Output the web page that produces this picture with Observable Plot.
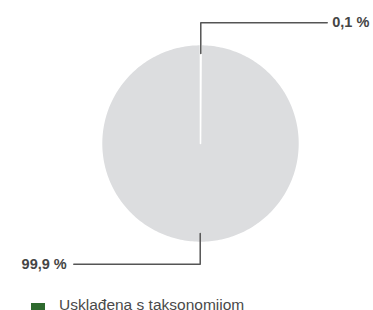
<!DOCTYPE html>
<html>
<head>
<meta charset="utf-8">
<script src="https://cdn.jsdelivr.net/npm/d3@7"></script>
<script src="https://cdn.jsdelivr.net/npm/@observablehq/plot@0.6"></script>
<style>
  html, body { margin: 0; padding: 0; background: #fff; overflow: hidden; }
  #chart { width: 373px; height: 310px; position: relative; font-family: "Liberation Sans", sans-serif; }
  .legend { position: absolute; left: 31px; top: 296px; display: flex; align-items: flex-start; font-size: 15.5px; line-height: 18px; color: #4a4a4a; white-space: nowrap; }
  .legend .sw { width: 14px; height: 14px; margin-top: 7px; margin-right: 14px; }
</style>
</head>
<body>
<div id="chart"></div>
<script>
const categories = ["Usklađena s taksonomijom", "Neusklađena s taksonomijom"];
const values = [0.1, 99.9];
const labels = ["0,1 %", "99,9 %"];
const colors = ["#2e6a2e", "#dcdddf"];

const arcs = d3.pie().sort(null).value(d => d)(values);

// polygon points of each slice, in unit-circle data space (y up)
const slicePts = [];
arcs.forEach((a, i) => {
  const n = Math.max(2, Math.ceil((a.endAngle - a.startAngle) / 0.02));
  slicePts.push({k: i, x: 0, y: 0});
  for (let j = 0; j <= n; j++) {
    const t = a.startAngle + (a.endAngle - a.startAngle) * j / n;
    slicePts.push({k: i, x: Math.sin(t), y: Math.cos(t)});
  }
  slicePts.push({k: i, x: 0, y: 0});
});

// leader lines: from inside the rim at the mid angle, up/down to an elbow, then sideways
const rIn = 0.91, rElbow = 1.22, reach = 1.28;
const leaderPts = [];
const labelPts = [];
arcs.forEach((a, i) => {
  const m = (a.startAngle + a.endAngle) / 2;
  const sx = Math.sin(m), sy = Math.cos(m);
  const side = sy > 0 ? 1 : -1;
  const ex = rIn * sx, ey = side * rElbow;
  const hx = side * reach;
  leaderPts.push({k: i, x: rIn * sx, y: rIn * sy});
  leaderPts.push({k: i, x: ex, y: ey});
  leaderPts.push({k: i, x: hx, y: ey});
  labelPts.push({k: i, x: hx, y: ey, text: labels[i], anchor: side > 0 ? "start" : "end"});
});

const plot = Plot.plot({
  width: 373,
  height: 292,
  marginLeft: 101,
  marginRight: 74,
  marginTop: 44,
  marginBottom: 50,
  x: {domain: [-1, 1], axis: null},
  y: {domain: [-1, 1], axis: null},
  style: {fontFamily: '"Liberation Sans", sans-serif', background: "#fff"},
  marks: [
    Plot.line(slicePts, {x: "x", y: "y", z: "k", fill: d => colors[d.k], stroke: "#fff", strokeWidth: 1.6, curve: "linear"}),
    Plot.line(leaderPts, {x: "x", y: "y", z: "k", stroke: "#555", strokeWidth: 1.5, curve: "linear"}),
    Plot.text(labelPts.filter(d => d.anchor === "start"), {x: "x", y: "y", text: "text", textAnchor: "start", dx: 5, fontSize: 14.5, fontWeight: "bold", fill: "#454545"}),
    Plot.text(labelPts.filter(d => d.anchor === "end"), {x: "x", y: "y", text: "text", textAnchor: "end", dx: -7, fontSize: 14.5, fontWeight: "bold", fill: "#454545"})
  ]
});

const chart = document.getElementById("chart");
chart.appendChild(plot);

const leg = document.createElement("div");
leg.className = "legend";
const sw = document.createElement("div");
sw.className = "sw";
sw.style.background = colors[0];
const tx = document.createElement("span");
tx.textContent = categories[0];
leg.appendChild(sw);
leg.appendChild(tx);
chart.appendChild(leg);
</script>
</body>
</html>
